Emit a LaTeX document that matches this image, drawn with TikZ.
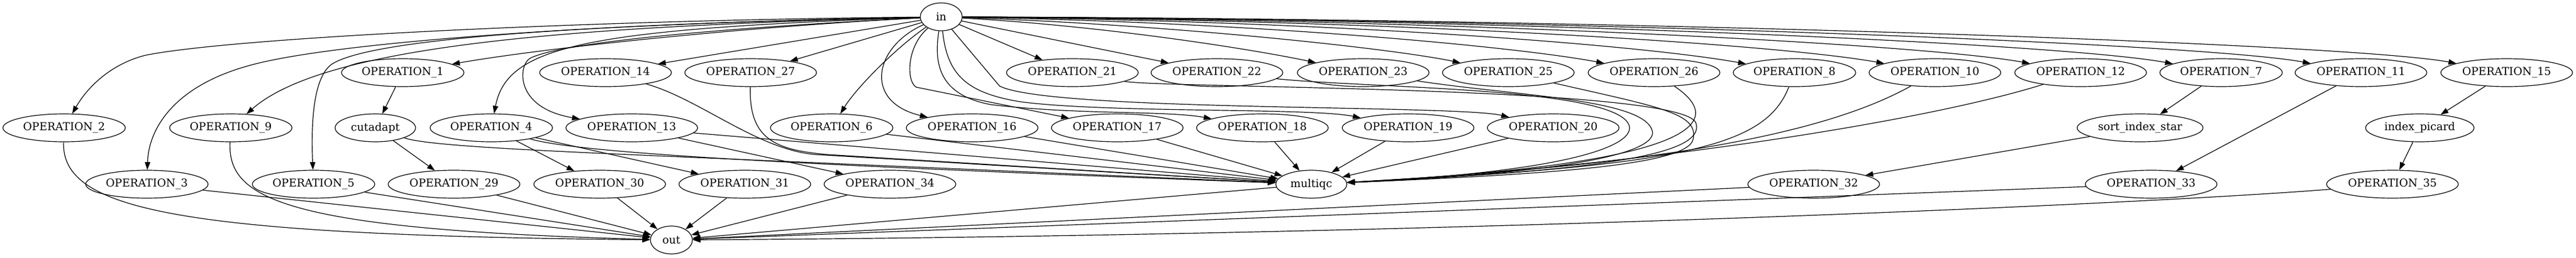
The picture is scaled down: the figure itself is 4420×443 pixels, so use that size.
\documentclass[tikz,border=0pt]{standalone}
\usepackage{fontspec}
\setmainfont{DejaVu Serif}
\usetikzlibrary{shapes.geometric,arrows.meta}
\begin{document}
\begin{tikzpicture}[x=0.75pt,y=-0.75pt,
  nd/.style={ellipse,draw,line width=0.9pt,inner sep=0pt,minimum height=36pt,font=\fontsize{14pt}{16pt}\selectfont},
  opa/.style={nd,minimum width=157.5pt},
  opb/.style={nd,minimum width=169.5pt},
  conn/.style={draw,line width=0.9pt,-{Triangle[length=10pt,width=7pt]}}]
\useasboundingbox (0,0) rectangle (4420,443);
% rank 0
\node[nd,minimum width=54pt] (nin) at (1615,29) {in};
% rank 1
\node[opa] (o1)  at (691,125)  {OPERATION\_1};
\node[opb] (o14) at (1039,125) {OPERATION\_14};
\node[opb] (o27) at (1288,125) {OPERATION\_27};
\node[opb] (o21) at (1840,125) {OPERATION\_21};
\node[opb] (o22) at (2088,125) {OPERATION\_22};
\node[opb] (o23) at (2339,125) {OPERATION\_23};
\node[opb] (o25) at (2588,125) {OPERATION\_25};
\node[opb] (o26) at (2838,125) {OPERATION\_26};
\node[opa] (o8)  at (3079,125) {OPERATION\_8};
\node[opb] (o10) at (3320,125) {OPERATION\_10};
\node[opb] (o12) at (3570,125) {OPERATION\_12};
\node[opa] (o7)  at (3811,125) {OPERATION\_7};
\node[opb] (o11) at (4051,125) {OPERATION\_11};
\node[opb] (o15) at (4301,125) {OPERATION\_15};
% rank 2
\node[opa] (o2)  at (110,220)  {OPERATION\_2};
\node[opa] (o9)  at (396,220)  {OPERATION\_9};
\node[nd,minimum width=103.5pt] (cut) at (644,220) {cutadapt};
\node[opa] (o4)  at (843,220)  {OPERATION\_4};
\node[opb] (o13) at (1084,220) {OPERATION\_13};
\node[opa] (o6)  at (1427,220) {OPERATION\_6};
\node[opb] (o16) at (1668,220) {OPERATION\_16};
\node[opb] (o17) at (1917,220) {OPERATION\_17};
\node[opb] (o18) at (2166,220) {OPERATION\_18};
\node[opb] (o19) at (2416,220) {OPERATION\_19};
\node[opb] (o20) at (2665,220) {OPERATION\_20};
\node[nd,minimum width=162pt] (sis) at (3672,220) {sort\_index\_star};
\node[nd,minimum width=139.5pt] (ip) at (4152,220) {index\_picard};
% rank 3
\node[opa] (o3)  at (252,317)  {OPERATION\_3};
\node[opa] (o5)  at (538,317)  {OPERATION\_5};
\node[opb] (o29) at (779,317)  {OPERATION\_29};
\node[opb] (o30) at (1029,317) {OPERATION\_30};
\node[opb] (o31) at (1278,317) {OPERATION\_31};
\node[opb] (o34) at (1527,317) {OPERATION\_34};
\node[nd,minimum width=91.5pt] (mq) at (2250,317) {multiqc};
\node[opb] (o32) at (3112,317) {OPERATION\_32};
\node[opb] (o33) at (3691,317) {OPERATION\_33};
\node[opb] (o35) at (4105,317) {OPERATION\_35};
% rank 4
\node[nd,minimum width=54pt] (nout) at (1152,413) {out};

% edges from in
\draw[conn] (nin) .. controls (1000,35) and (400,65) .. (250,95) .. controls (190,110) and (150,150) .. (o2);
\draw[conn] (nin) .. controls (1000,40) and (550,75) .. (420,115) .. controls (300,150) and (255,220) .. (o3);
\draw[conn] (nin) .. controls (1000,45) and (560,75) .. (o9);
\draw[conn] (nin) .. controls (1100,40) and (650,60) .. (570,110) .. controls (540,130) and (533,200) .. (o5);
\draw[conn] (nin) .. controls (1300,45) and (950,80) .. (o1);
\draw[conn] (nin) -- (o14);
\draw[conn] (nin) .. controls (1000,50) and (870,80) .. (o4);
\draw[conn] (nin) .. controls (1200,50) and (960,75) .. (910,100) .. controls (890,110) and (880,185) .. (o13);
\draw[conn] (nin) -- (o27);
\draw[conn] (nin) .. controls (1540,80) and (1470,150) .. (o6);
\draw[conn] (nin) .. controls (1500,80) and (1480,175) .. (o16);
\draw[conn] (nin) .. controls (1555,80) and (1555,140) .. (1572,150) -- (o17);
\draw[conn] (nin) .. controls (1600,120) and (1620,165) .. (1700,180) .. controls (1850,198) and (2000,190) .. (o18);
\draw[conn] (nin) .. controls (1625,130) and (1660,160) .. (1750,175) .. controls (1900,195) and (2250,185) .. (o19);
\draw[conn] (nin) -- (1715,148) .. controls (1800,192) and (2500,180) .. (o20);
\draw[conn] (nin) -- (o21);
\draw[conn] (nin) -- (o22);
\draw[conn] (nin) .. controls (1900,45) and (2150,85) .. (o23);
\draw[conn] (nin) .. controls (2000,42) and (2380,82) .. (o25);
\draw[conn] (nin) .. controls (2150,38) and (2600,80) .. (o26);
\draw[conn] (nin) .. controls (2300,36) and (2820,78) .. (o8);
\draw[conn] (nin) .. controls (2400,34) and (3050,76) .. (o10);
\draw[conn] (nin) .. controls (2500,33) and (3300,76) .. (o12);
\draw[conn] (nin) .. controls (2600,32) and (3540,75) .. (o7);
\draw[conn] (nin) .. controls (2700,32) and (3780,75) .. (o11);
\draw[conn] (nin) .. controls (2800,32) and (4030,75) .. (o15);

% chains
\draw[conn] (o1) -- (cut);
\draw[conn] (cut) -- (o29);
\draw[conn] (o4) -- (o30);
\draw[conn] (o4) -- (o31);
\draw[conn] (o13) -- (o34);
\draw[conn] (o7) -- (sis);
\draw[conn] (sis) -- (o32);
\draw[conn] (o11) -- (o33);
\draw[conn] (o15) -- (ip);
\draw[conn] (ip) -- (o35);

% into multiqc
\draw[conn] (o14) .. controls (1200,170) and (1300,258) .. (1400,266) -- (mq);
\draw[conn] (o27) .. controls (1285,240) and (1330,258) .. (1420,266) -- (mq);
\draw[conn] (cut) .. controls (730,250) and (900,258) .. (1100,267) -- (mq);
\draw[conn] (o4) .. controls (1000,265) and (1400,285) .. (mq);
\draw[conn] (o13) -- (mq);
\draw[conn] (o6) -- (mq);
\draw[conn] (o16) -- (mq);
\draw[conn] (o17) -- (mq);
\draw[conn] (o18) -- (mq);
\draw[conn] (o19) -- (mq);
\draw[conn] (o20) -- (mq);
\draw[conn] (o21) .. controls (2000,152) and (2890,148) .. (2910,212) .. controls (2925,262) and (2780,292) .. (mq);
\draw[conn] (o22) .. controls (2350,152) and (2770,150) .. (2795,215) .. controls (2808,249) and (2700,295) .. (mq);
\draw[conn] (o23) .. controls (2600,165) and (2820,170) .. (2835,225) .. controls (2845,262) and (2700,297) .. (mq);
\draw[conn] (o25) .. controls (2850,185) and (2915,195) .. (2905,240) .. controls (2895,285) and (2650,300) .. (mq);
\draw[conn] (o26) .. controls (2950,200) and (2960,280) .. (mq);
\draw[conn] (o8) .. controls (3030,250) and (2900,285) .. (mq);
\draw[conn] (o10) .. controls (3150,220) and (2900,282) .. (mq);
\draw[conn] (o12) .. controls (3300,210) and (2800,288) .. (mq);

% into out
\draw[conn] (mq) -- (nout);
\draw[conn] (o2) .. controls (105,360) and (300,405) .. (nout);
\draw[conn] (o9) .. controls (390,340) and (480,395) .. (nout);
\draw[conn] (o3) -- (nout);
\draw[conn] (o5) -- (nout);
\draw[conn] (o29) -- (nout);
\draw[conn] (o30) -- (nout);
\draw[conn] (o31) -- (nout);
\draw[conn] (o34) -- (nout);
\draw[conn] (o32) -- (nout);
\draw[conn] (o33) -- (nout);
\draw[conn] (o35) .. controls (3700,350) and (2500,405) .. (nout);
\end{tikzpicture}
\end{document}
